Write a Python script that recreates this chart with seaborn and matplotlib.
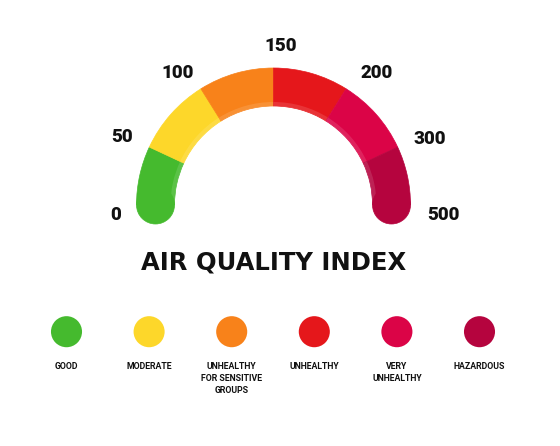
import numpy as np
import pandas as pd
import seaborn as sns
import matplotlib.pyplot as plt
from matplotlib.patches import Wedge, Circle

# AQI categories, colours and gauge breakpoints
levels = ["GOOD", "MODERATE", "UNHEALTHY\nFOR SENSITIVE\nGROUPS",
          "UNHEALTHY", "VERY\nUNHEALTHY", "HAZARDOUS"]
colors = ["#45BA2E", "#FDD72A", "#F8821A", "#E5171B", "#DB0447", "#B5043E"]
tick_labels = ["0", "50", "100", "150", "200", "300", "500"]
# angle (degrees) of each breakpoint on the gauge, 0 -> 500
tick_angles = [180, 155, 122, 90, 58, 25, 0]
# where the breakpoint labels sit (angle, distance from gauge centre)
label_angles = [183.6, 156, 126, 87.5, 52, 23, -3.4]
label_radii = [158, 166, 163, 159, 167, 170, 170]

sns.set_theme(style="white")
plt.rcParams['font.family'] = ['Roboto', 'DejaVu Sans']

W, H = 560, 446
fig = plt.figure(figsize=(W / 100, H / 100), dpi=100)
ax = fig.add_axes([0, 0, 1, 1])
ax.set_xlim(0, W)
ax.set_ylim(0, H)
ax.set_aspect('equal')
ax.axis('off')

# gauge geometry (pixel units, y up)
cx, cy = 273.5, H - 205
r_out, width = 137, 38
r_mid = r_out - width / 2

for i, col in enumerate(colors):
    a1, a0 = tick_angles[i], tick_angles[i + 1]
    ax.add_patch(Wedge((cx, cy), r_out, a0, a1, width=width, facecolor=col,
                       edgecolor=col, lw=0.5))
    # faint highlight along the inner edge
    ax.add_patch(Wedge((cx, cy), r_out - width + 4, a0, a1, width=4,
                       facecolor='white', alpha=0.12, lw=0))
# rounded end caps
for ang, col in [(tick_angles[0], colors[0]), (tick_angles[-1], colors[-1])]:
    t = np.deg2rad(ang)
    ax.add_patch(Circle((cx + r_mid * np.cos(t), cy + r_mid * np.sin(t)),
                        width / 2, facecolor=col, edgecolor=col, lw=0.5))

# breakpoint labels around the gauge
for lab, ang, r in zip(tick_labels, label_angles, label_radii):
    t = np.deg2rad(ang)
    ax.text(cx + r * np.cos(t), cy + r * np.sin(t), lab, ha='center',
            va='center', fontsize=13.5, fontweight='black', color='#111111')

ax.text(cx, H - 262.5, "AIR QUALITY INDEX", ha='center', va='center',
        fontsize=17.5, fontweight='bold', color='#111111',
        family='DejaVu Sans')

# legend dots
leg = pd.DataFrame({"level": levels,
                    "x": 66.5 + 82.6 * np.arange(len(levels)),
                    "y": H - 331.7})
sns.scatterplot(data=leg, x="x", y="y", hue="level", palette=colors,
                s=500, edgecolor='none', legend=False, ax=ax)
for _, row in leg.iterrows():
    ax.text(row["x"], H - 362, row["level"], ha='center', va='top',
            fontsize=6.3, fontweight='bold', color='#111111', linespacing=1.4)

ax.set_xlim(0, W)
ax.set_ylim(0, H)
fig.savefig("out.png", dpi=100, facecolor='white')
